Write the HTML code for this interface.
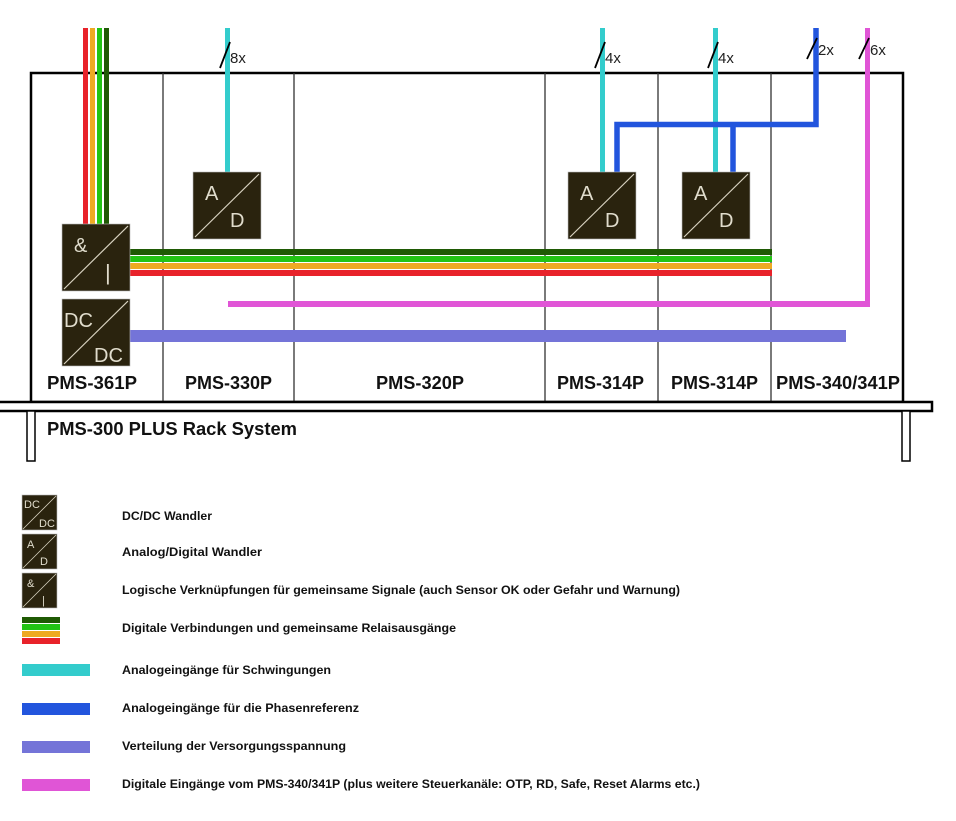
<!DOCTYPE html>
<html><head><meta charset="utf-8"><style>
html,body{margin:0;padding:0;background:#fff;}
svg{display:block}
text{font-family:"Liberation Sans",Arial,sans-serif;}
</style></head><body>
<svg width="956" height="821" viewBox="0 0 956 821" xmlns="http://www.w3.org/2000/svg">
<defs>
<g id="box"><rect x="0" y="0" width="68" height="67" fill="#2a230e" stroke="#bbb" stroke-width="0.6"/><line x1="2" y1="65" x2="66" y2="2" stroke="#d8d2c0" stroke-width="1.2"/></g>
<g id="sbox"><rect x="0" y="0" width="35" height="35" fill="#2a230e" stroke="#bbb" stroke-width="0.6"/><line x1="1" y1="34" x2="34" y2="1" stroke="#d8d2c0" stroke-width="0.8"/></g>
</defs>
<rect x="31" y="73" width="872" height="329" fill="none" stroke="#000" stroke-width="2.5"/>
<g stroke="#333" stroke-width="1.3">
<line x1="163" y1="73" x2="163" y2="401"/><line x1="294" y1="73" x2="294" y2="401"/>
<line x1="545" y1="73" x2="545" y2="401"/><line x1="658" y1="73" x2="658" y2="401"/>
<line x1="771" y1="73" x2="771" y2="401"/>
</g>
<rect x="-2" y="402" width="934" height="9" fill="#fff" stroke="#000" stroke-width="2.5"/>
<rect x="27" y="411" width="8" height="50" fill="#fff" stroke="#000" stroke-width="1.5"/>
<rect x="902" y="411" width="8" height="50" fill="#fff" stroke="#000" stroke-width="1.5"/>
<rect x="83" y="28" width="5" height="197" fill="#e8222a"/>
<rect x="90" y="28" width="5" height="197" fill="#eeaa22"/>
<rect x="97" y="28" width="5" height="197" fill="#22c414"/>
<rect x="104" y="28" width="5" height="197" fill="#1f5a04"/>
<rect x="130" y="249" width="642" height="6" fill="#1f5a04"/>
<rect x="130" y="256" width="642" height="6" fill="#22c414"/>
<rect x="130" y="263" width="642" height="6" fill="#eeaa22"/>
<rect x="130" y="270" width="642" height="6" fill="#e8222a"/>
<rect x="228" y="301" width="642" height="6" fill="#e055d6"/>
<rect x="865" y="28" width="5" height="279" fill="#e055d6"/>
<rect x="130" y="330" width="716" height="12" fill="#7474d8"/>
<rect x="225" y="28" width="5" height="145" fill="#33cccc"/>
<rect x="600" y="28" width="5" height="145" fill="#33cccc"/>
<rect x="713" y="28" width="5" height="145" fill="#33cccc"/>
<path d="M816 28 V124.5 H617 V173 M733 124.5 V173" fill="none" stroke="#2255dd" stroke-width="5.5"/>
<g stroke="#000" stroke-width="1.8">
<line x1="220" y1="68" x2="230" y2="42"/><line x1="595" y1="68" x2="605" y2="42"/>
<line x1="708" y1="68" x2="718" y2="42"/><line x1="807" y1="59" x2="817" y2="38"/>
<line x1="859" y1="59" x2="869" y2="38"/>
</g>
<g font-size="15" fill="#222">
<text x="230" y="63">8x</text><text x="605" y="63">4x</text><text x="718" y="63">4x</text>
<text x="818" y="55">2x</text><text x="870" y="55">6x</text>
</g>
<use href="#box" x="62" y="224"/>
<use href="#box" x="62" y="299"/>
<use href="#box" x="193" y="172"/>
<use href="#box" x="568" y="172"/>
<use href="#box" x="682" y="172"/>
<g fill="#e0dccc" font-size="20">
<text x="74" y="252">&amp;</text><text x="105" y="280" font-size="22">|</text>
<text x="64" y="327">DC</text><text x="94" y="362">DC</text>
<text x="205" y="200">A</text><text x="230" y="227">D</text>
<text x="580" y="200">A</text><text x="605" y="227">D</text>
<text x="694" y="200">A</text><text x="719" y="227">D</text>
</g>
<g font-size="18" font-weight="bold" fill="#111" lengthAdjust="spacingAndGlyphs">
<text x="47" y="389" textLength="90" lengthAdjust="spacingAndGlyphs">PMS-361P</text>
<text x="185" y="389" textLength="87" lengthAdjust="spacingAndGlyphs">PMS-330P</text>
<text x="376" y="389" textLength="88" lengthAdjust="spacingAndGlyphs">PMS-320P</text>
<text x="557" y="389" textLength="87" lengthAdjust="spacingAndGlyphs">PMS-314P</text>
<text x="671" y="389" textLength="87" lengthAdjust="spacingAndGlyphs">PMS-314P</text>
<text x="776" y="389" textLength="124" lengthAdjust="spacingAndGlyphs">PMS-340/341P</text>
</g>
<text x="47" y="435" font-size="18" font-weight="bold" fill="#111" textLength="250" lengthAdjust="spacingAndGlyphs">PMS-300 PLUS Rack System</text>
<use href="#sbox" x="22" y="495"/><use href="#sbox" x="22" y="534"/><use href="#sbox" x="22" y="573"/>
<g fill="#e0dccc" font-size="11">
<text x="24" y="508">DC</text><text x="39" y="527">DC</text>
<text x="27" y="548">A</text><text x="40" y="565">D</text>
<text x="27" y="587">&amp;</text><text x="42" y="604">|</text>
</g>
<rect x="22" y="617" width="38" height="6" fill="#1f5a04"/>
<rect x="22" y="624" width="38" height="6" fill="#22c414"/>
<rect x="22" y="631" width="38" height="6" fill="#eeaa22"/>
<rect x="22" y="638" width="38" height="6" fill="#e8222a"/>
<rect x="22" y="664" width="68" height="12" fill="#33cccc"/>
<rect x="22" y="703" width="68" height="12" fill="#2255dd"/>
<rect x="22" y="741" width="68" height="12" fill="#7474d8"/>
<rect x="22" y="779" width="68" height="12" fill="#e055d6"/>
<g font-size="12" font-weight="bold" fill="#111">
<text x="122" y="520" textLength="90" lengthAdjust="spacingAndGlyphs">DC/DC Wandler</text>
<text x="122" y="556" textLength="140" lengthAdjust="spacingAndGlyphs">Analog/Digital Wandler</text>
<text x="122" y="594" textLength="558" lengthAdjust="spacingAndGlyphs">Logische Verknüpfungen für gemeinsame Signale (auch Sensor OK oder Gefahr und Warnung)</text>
<text x="122" y="632" textLength="334" lengthAdjust="spacingAndGlyphs">Digitale Verbindungen und gemeinsame Relaisausgänge</text>
<text x="122" y="674" textLength="209" lengthAdjust="spacingAndGlyphs">Analogeingänge für Schwingungen</text>
<text x="122" y="712" textLength="237" lengthAdjust="spacingAndGlyphs">Analogeingänge für die Phasenreferenz</text>
<text x="122" y="750" textLength="224" lengthAdjust="spacingAndGlyphs">Verteilung der Versorgungsspannung</text>
<text x="122" y="788" textLength="578" lengthAdjust="spacingAndGlyphs">Digitale Eingänge vom PMS-340/341P (plus weitere Steuerkanäle: OTP, RD, Safe, Reset Alarms etc.)</text>
</g>
</svg>
</body></html>
